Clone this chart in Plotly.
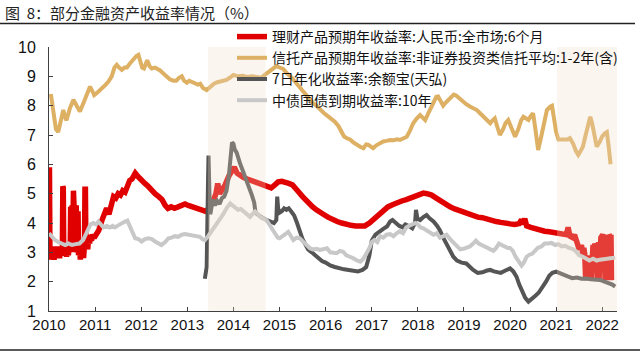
import plotly.graph_objects as go

# ---------------- data (decimal years, %) ----------------
years = list(range(2010, 2023))
year_labels = [str(y) for y in years]
yticks = list(range(1, 11))

# 理财产品预期年收益率:人民币:全市场:6个月
wm_x = [2010.00, 2010.01, 2010.02, 2010.03, 2010.05, 2010.07, 2010.09, 2010.11, 2010.13, 2010.15,
        2010.17, 2010.19, 2010.21, 2010.23, 2010.25, 2010.27, 2010.29, 2010.30, 2010.31, 2010.32,
        2010.34, 2010.36, 2010.38, 2010.40, 2010.42, 2010.44, 2010.46, 2010.47, 2010.48, 2010.50,
        2010.51, 2010.53, 2010.55, 2010.56, 2010.58, 2010.59, 2010.61, 2010.63, 2010.64, 2010.66,
        2010.68, 2010.70, 2010.72, 2010.73, 2010.75, 2010.77, 2010.78, 2010.79, 2010.80, 2010.82,
        2010.84, 2010.86, 2010.88, 2010.90, 2010.92, 2010.95, 2010.98,
        2011.00, 2011.08, 2011.15, 2011.20, 2011.25, 2011.30, 2011.35, 2011.40, 2011.45, 2011.50,
        2011.55, 2011.60, 2011.65, 2011.70, 2011.75, 2011.80, 2011.87, 2011.92, 2011.97, 2012.02,
        2012.08, 2012.15, 2012.22, 2012.30, 2012.38, 2012.45, 2012.52, 2012.58, 2012.65, 2012.72,
        2012.80, 2012.88, 2012.95, 2013.02, 2013.10, 2013.18, 2013.25, 2013.32, 2013.40, 2013.47,
        2013.55, 2013.62, 2013.66, 2013.70, 2013.75, 2013.82, 2013.90, 2013.97, 2014.02, 2014.08,
        2014.15, 2014.22, 2014.30, 2014.38, 2014.45, 2014.52, 2014.60, 2014.68, 2014.75, 2014.82,
        2014.90, 2014.97, 2015.05, 2015.12, 2015.20, 2015.28, 2015.35, 2015.42, 2015.50, 2015.58,
        2015.65, 2015.72, 2015.80, 2015.88, 2015.95, 2016.05, 2016.15, 2016.25, 2016.35, 2016.45,
        2016.55, 2016.65, 2016.75, 2016.85, 2016.95, 2017.05, 2017.15, 2017.25, 2017.35, 2017.45,
        2017.55, 2017.65, 2017.75, 2017.85, 2017.95, 2018.05, 2018.12, 2018.20, 2018.30, 2018.40,
        2018.50, 2018.60, 2018.70, 2018.80, 2018.90, 2019.00, 2019.10, 2019.20, 2019.30, 2019.40,
        2019.50, 2019.60, 2019.70, 2019.80, 2019.90, 2020.00, 2020.10, 2020.20, 2020.25, 2020.28,
        2020.32, 2020.36, 2020.45, 2020.55, 2020.65, 2020.75, 2020.85, 2020.95, 2021.05, 2021.15,
        2021.22, 2021.26, 2021.30, 2021.36, 2021.40, 2021.45, 2021.50, 2021.55, 2021.58, 2021.60,
        2021.62, 2021.64, 2021.65, 2021.66, 2021.67, 2021.68, 2021.69, 2021.70, 2021.71, 2021.72,
        2021.73, 2021.74, 2021.75, 2021.76, 2021.77, 2021.78, 2021.80, 2021.82, 2021.84, 2021.86,
        2021.88, 2021.89, 2021.90, 2021.91, 2021.92, 2021.93, 2021.94, 2021.95, 2021.97, 2021.99,
        2022.01, 2022.03, 2022.05, 2022.06, 2022.07, 2022.08, 2022.09, 2022.10, 2022.11, 2022.12,
        2022.13, 2022.14, 2022.15, 2022.16, 2022.17, 2022.18, 2022.19, 2022.20]
wm_y = [3.60, 5.90, 3.00, 2.75, 3.20, 2.80, 3.15, 2.75, 3.10, 2.80,
        3.20, 2.85, 3.10, 2.80, 3.15, 2.90, 3.10, 5.25, 5.20, 3.00,
        2.90, 3.15, 2.85, 3.10, 2.90, 3.20, 3.00, 4.55, 3.10, 4.60,
        3.00, 5.10, 3.20, 4.70, 3.10, 4.60, 3.00, 4.40, 2.90, 3.20,
        2.75, 3.20, 2.90, 3.30, 2.80, 3.30, 5.15, 5.15, 3.20, 3.40,
        3.10, 3.50, 3.30, 3.60, 3.40, 3.60, 3.50,
        3.55, 3.75, 4.10, 4.30, 4.50, 4.30, 4.60, 4.90, 4.85, 5.00,
        4.95, 5.10, 5.05, 5.30, 5.45, 5.50, 5.70, 5.60, 5.50, 5.45,
        5.35, 5.25, 5.10, 5.00, 4.90, 4.80, 4.60, 4.50, 4.55, 4.50,
        4.55, 4.60, 4.65, 4.60, 4.55, 4.50, 4.50, 4.45, 4.40, 4.50,
        4.70, 5.00, 5.35, 5.00, 5.10, 5.30, 5.60, 5.80, 5.90, 5.70,
        5.60, 5.55, 5.50, 5.45, 5.40, 5.40, 5.35, 5.30, 5.25, 5.20,
        5.30, 5.40, 5.42, 5.40, 5.35, 5.30, 5.20, 5.05, 4.90, 4.75,
        4.65, 4.55, 4.45, 4.35, 4.30, 4.20, 4.10, 4.05, 4.00, 3.95,
        3.92, 3.90, 3.88, 3.90, 4.00, 4.15, 4.30, 4.45, 4.55, 4.62,
        4.70, 4.75, 4.80, 4.85, 4.92, 4.98, 5.02, 5.00, 4.95, 4.85,
        4.75, 4.62, 4.55, 4.48, 4.42, 4.38, 4.33, 4.28, 4.20, 4.18,
        4.12, 4.08, 4.05, 4.02, 3.98, 3.97, 3.95, 3.98, 4.12, 3.95,
        4.15, 3.90, 3.85, 3.80, 3.75, 3.72, 3.70, 3.68, 3.65, 3.63,
        3.60, 3.85, 3.55, 3.50, 3.60, 3.35, 3.10, 3.25, 2.90, 3.15,
        2.95, 2.10, 2.90, 2.05, 2.85, 2.10, 2.90, 2.05, 2.80, 2.10,
        2.90, 2.05, 2.85, 2.10, 2.90, 3.00, 3.25, 3.05, 3.30, 3.10,
        3.30, 2.05, 3.30, 2.10, 3.35, 2.05, 3.40, 2.10, 3.50, 3.55,
        3.60, 3.50, 3.60, 2.05, 3.60, 2.10, 3.60, 2.05, 3.55, 2.10,
        3.60, 2.05, 3.60, 2.10, 3.55, 2.05, 3.60, 2.06]

# 信托产品预期年收益率:非证券投资类信托平均:1-2年(含)
tr_x = [2010.04, 2010.10, 2010.15, 2010.20, 2010.25, 2010.31, 2010.35, 2010.38, 2010.45, 2010.53,
        2010.60, 2010.67, 2010.75, 2010.82, 2010.89, 2010.94, 2010.98, 2011.05, 2011.14, 2011.22,
        2011.29, 2011.36, 2011.42, 2011.47, 2011.52, 2011.58, 2011.64, 2011.69, 2011.76, 2011.83,
        2011.90, 2011.94, 2011.98, 2012.02, 2012.06, 2012.10, 2012.13, 2012.18, 2012.23, 2012.30,
        2012.36, 2012.41, 2012.48, 2012.55, 2012.62, 2012.70, 2012.76, 2012.82, 2012.88, 2012.93,
        2012.99, 2013.04, 2013.10, 2013.17, 2013.23, 2013.28, 2013.34, 2013.42, 2013.50, 2013.58,
        2013.65, 2013.71, 2013.78, 2013.85, 2013.92, 2014.00, 2014.10, 2014.20, 2014.30, 2014.40,
        2014.50, 2014.60, 2014.68, 2014.76, 2014.85, 2014.93, 2015.00, 2015.08, 2015.16, 2015.24,
        2015.32, 2015.40, 2015.48, 2015.56, 2015.64, 2015.72, 2015.80, 2015.88, 2015.96, 2016.04,
        2016.12, 2016.20, 2016.28, 2016.34, 2016.40, 2016.47, 2016.53, 2016.60, 2016.68, 2016.75,
        2016.82, 2016.88, 2016.92, 2016.98, 2017.03, 2017.10, 2017.18, 2017.25, 2017.32, 2017.40,
        2017.48, 2017.55, 2017.61, 2017.68, 2017.76, 2017.83, 2017.90, 2017.97, 2018.05, 2018.10,
        2018.16, 2018.23, 2018.30, 2018.36, 2018.40, 2018.44, 2018.49, 2018.55, 2018.60, 2018.66,
        2018.72, 2018.78, 2018.83, 2018.90, 2018.99, 2019.05, 2019.13, 2019.20, 2019.28, 2019.35,
        2019.42, 2019.50, 2019.57, 2019.62, 2019.67, 2019.72, 2019.78, 2019.85, 2019.90, 2019.96,
        2020.03, 2020.11, 2020.18, 2020.24, 2020.29, 2020.34, 2020.40, 2020.45, 2020.50, 2020.55,
        2020.61, 2020.67, 2020.74, 2020.80, 2020.87, 2020.91, 2020.95, 2021.00, 2021.05, 2021.12,
        2021.19, 2021.25, 2021.30, 2021.37, 2021.43, 2021.48, 2021.53, 2021.58, 2021.64, 2021.70,
        2021.74, 2021.78, 2021.83, 2021.88, 2021.94, 2022.00, 2022.06, 2022.10, 2022.14, 2022.18]
tr_y = [8.40, 7.60, 7.20, 7.10, 7.40, 7.85, 7.60, 7.50, 7.90, 8.20,
        8.00, 7.80, 8.10, 8.40, 8.65, 8.50, 8.36, 8.45, 8.57, 8.70,
        8.82, 9.00, 9.30, 9.39, 9.30, 9.22, 9.30, 9.30, 9.45, 9.60,
        9.70, 9.73, 9.55, 9.30, 9.27, 9.50, 9.55, 9.35, 9.27, 9.30,
        9.25, 9.20, 9.10, 9.00, 8.90, 8.85, 8.85, 8.95, 9.00, 8.85,
        8.78, 8.85, 8.82, 8.75, 8.72, 8.75, 8.60, 8.53, 8.65, 8.75,
        8.80, 8.82, 8.85, 8.88, 8.95, 9.05, 9.00, 9.02, 8.98, 9.00,
        8.98, 8.95, 9.05, 9.15, 9.25, 9.35, 9.30, 9.25, 9.10, 9.00,
        8.85, 8.70, 8.50, 8.35, 8.20, 8.10, 8.00, 7.85, 7.75, 7.65,
        7.55, 7.45, 7.30, 7.10, 6.95, 6.88, 6.85, 6.75, 6.65, 6.60,
        6.55, 6.68, 6.67, 6.60, 6.55, 6.65, 6.72, 6.78, 6.80, 6.83,
        6.82, 6.85, 6.83, 6.90, 6.94, 7.15, 7.40, 7.55, 7.68, 7.60,
        7.51, 7.75, 7.97, 8.10, 8.30, 8.31, 8.15, 8.00, 8.10, 8.20,
        8.30, 8.38, 8.35, 8.25, 8.14, 8.05, 7.97, 7.92, 7.85, 7.74,
        7.63, 7.52, 7.40, 7.50, 7.57, 7.30, 7.00, 7.20, 7.40, 7.51,
        7.20, 6.94, 7.20, 7.50, 7.62, 7.55, 7.51, 7.65, 7.74, 7.20,
        6.49, 6.90, 7.50, 7.85, 7.97, 8.00, 7.60, 7.10, 6.85, 6.85,
        6.83, 6.85, 6.89, 6.70, 6.45, 6.32, 6.45, 6.60, 7.00, 7.45,
        7.62, 7.40, 6.90, 6.60, 6.75, 6.95, 7.06, 7.10, 6.60, 6.00]

# 7日年化收益率:余额宝(天弘)
yeb_x = [2013.38, 2013.42, 2013.45, 2013.46, 2013.48, 2013.50, 2013.53, 2013.56, 2013.60, 2013.65,
         2013.70, 2013.75, 2013.80, 2013.85, 2013.90, 2013.94, 2013.97, 2014.00, 2014.03, 2014.07,
         2014.10, 2014.15, 2014.20, 2014.25, 2014.30, 2014.35, 2014.40, 2014.45, 2014.48, 2014.52,
         2014.60, 2014.70, 2014.80, 2014.88, 2014.93, 2014.95, 2014.97, 2015.00, 2015.05, 2015.10,
         2015.15, 2015.20, 2015.25, 2015.32, 2015.38, 2015.44, 2015.50, 2015.55, 2015.62, 2015.70,
         2015.78, 2015.85, 2015.92, 2016.00, 2016.10, 2016.20, 2016.30, 2016.40, 2016.50, 2016.60,
         2016.70, 2016.80, 2016.88, 2016.95, 2017.00, 2017.08, 2017.15, 2017.25, 2017.33, 2017.40,
         2017.45, 2017.52, 2017.60, 2017.67, 2017.73, 2017.80, 2017.88, 2017.94, 2017.96, 2017.99,
         2018.05, 2018.12, 2018.19, 2018.26, 2018.34, 2018.42, 2018.48, 2018.55, 2018.63, 2018.70,
         2018.77, 2018.85, 2018.95, 2019.05, 2019.12, 2019.20, 2019.30, 2019.40, 2019.50, 2019.57,
         2019.65, 2019.72, 2019.80, 2019.90, 2020.00, 2020.07, 2020.14, 2020.20, 2020.27, 2020.33,
         2020.40, 2020.47, 2020.55, 2020.62, 2020.70, 2020.78, 2020.85, 2020.92, 2021.00, 2021.08,
         2021.15, 2021.25, 2021.35, 2021.45, 2021.55, 2021.65, 2021.75, 2021.85, 2021.95, 2022.05,
         2022.15, 2022.22, 2022.28]
yeb_y = [2.10, 2.50, 5.50, 6.30, 5.00, 4.30, 4.60, 4.80, 4.60, 4.75,
         4.65, 4.85, 4.90, 5.10, 5.60, 6.30, 6.75, 6.70, 6.50, 6.40,
         6.20, 6.00, 5.80, 5.60, 5.40, 5.20, 4.95, 4.70, 4.35, 4.30,
         4.20, 4.12, 4.05, 4.00, 4.10, 4.90, 4.50, 4.35, 4.40, 4.50,
         4.45, 4.50, 4.40, 4.25, 4.00, 3.70, 3.45, 3.30, 3.10, 3.00,
         2.90, 2.80, 2.70, 2.65, 2.55, 2.50, 2.45, 2.42, 2.40, 2.38,
         2.35, 2.40, 2.50, 2.90, 3.40, 3.60, 3.70, 3.80, 3.88, 4.05,
         4.10, 4.00, 3.90, 3.85, 3.95, 3.90, 3.82, 4.00, 4.45, 4.15,
         4.10, 4.20, 4.27, 4.15, 4.05, 3.90, 3.75, 3.50, 3.25, 3.00,
         2.85, 2.72, 2.65, 2.62, 2.50, 2.40, 2.30, 2.32, 2.38, 2.40,
         2.35, 2.32, 2.30, 2.38, 2.45, 2.35, 2.17, 1.90, 1.62, 1.45,
         1.32, 1.40, 1.52, 1.62, 1.80, 2.00, 2.20, 2.30, 2.34, 2.28,
         2.23, 2.18, 2.12, 2.14, 2.10, 2.11, 2.08, 2.08, 2.06, 2.00,
         1.95, 1.90, 1.83]

# 中债国债到期收益率:10年
gb_x = [2010.00, 2010.05, 2010.13, 2010.20, 2010.28, 2010.35, 2010.42, 2010.50, 2010.58, 2010.66,
        2010.74, 2010.80, 2010.85, 2010.90, 2010.96, 2011.02, 2011.07, 2011.12, 2011.18, 2011.25,
        2011.32, 2011.38, 2011.43, 2011.50, 2011.58, 2011.65, 2011.70, 2011.76, 2011.82, 2011.87,
        2011.94, 2012.01, 2012.08, 2012.16, 2012.23, 2012.30, 2012.37, 2012.44, 2012.52, 2012.59,
        2012.66, 2012.73, 2012.80, 2012.88, 2012.95, 2013.02, 2013.10, 2013.18, 2013.27, 2013.33,
        2013.38, 2013.45, 2013.52, 2013.57, 2013.64, 2013.71, 2013.78, 2013.85, 2013.90, 2013.93,
        2013.98, 2014.03, 2014.10, 2014.16, 2014.22, 2014.29, 2014.36, 2014.42, 2014.47, 2014.53,
        2014.58, 2014.65, 2014.72, 2014.78, 2014.83, 2014.90, 2014.96, 2015.00, 2015.06, 2015.12,
        2015.19, 2015.25, 2015.30, 2015.37, 2015.44, 2015.50, 2015.55, 2015.60, 2015.66, 2015.72,
        2015.80, 2015.88, 2015.96, 2016.03, 2016.10, 2016.17, 2016.24, 2016.31, 2016.38, 2016.45,
        2016.53, 2016.60, 2016.68, 2016.75, 2016.82, 2016.89, 2016.95, 2017.00, 2017.06, 2017.12,
        2017.18, 2017.25, 2017.32, 2017.40, 2017.47, 2017.54, 2017.61, 2017.68, 2017.75, 2017.83,
        2017.90, 2017.95, 2018.00, 2018.06, 2018.12, 2018.20, 2018.27, 2018.34, 2018.41, 2018.48,
        2018.55, 2018.62, 2018.70, 2018.77, 2018.85, 2018.92, 2018.99, 2019.06, 2019.13, 2019.20,
        2019.26, 2019.32, 2019.38, 2019.45, 2019.52, 2019.58, 2019.64, 2019.70, 2019.76, 2019.82,
        2019.88, 2019.95, 2020.00, 2020.06, 2020.12, 2020.18, 2020.25, 2020.30, 2020.36, 2020.42,
        2020.48, 2020.54, 2020.60, 2020.68, 2020.75, 2020.82, 2020.90, 2020.98, 2021.05, 2021.12,
        2021.20, 2021.28, 2021.35, 2021.42, 2021.50, 2021.58, 2021.65, 2021.72, 2021.80, 2021.88,
        2021.95, 2022.02, 2022.10, 2022.18, 2022.28]
gb_y = [3.65, 3.55, 3.42, 3.35, 3.28, 3.25, 3.30, 3.25, 3.28, 3.30,
        3.42, 3.60, 3.75, 3.95, 4.00, 3.95, 4.05, 3.95, 3.85, 3.90,
        3.85, 3.90, 3.85, 3.92, 4.00, 4.05, 4.08, 3.90, 3.65, 3.48,
        3.45, 3.37, 3.45, 3.48, 3.45, 3.37, 3.30, 3.25, 3.35, 3.48,
        3.50, 3.55, 3.53, 3.60, 3.62, 3.60, 3.59, 3.55, 3.53, 3.45,
        3.42, 3.55, 3.70, 3.82, 3.95, 4.10, 4.30, 4.50, 4.62, 4.67,
        4.60, 4.52, 4.45, 4.48, 4.40, 4.30, 4.21, 4.32, 4.39, 4.30,
        4.21, 4.15, 4.10, 3.95, 3.82, 3.65, 3.50, 3.48, 3.55, 3.60,
        3.70, 3.55, 3.42, 3.50, 3.48, 3.38, 3.31, 3.22, 3.14, 3.10,
        3.12, 3.08, 3.10, 3.14, 3.00, 2.97, 2.97, 3.05, 3.02, 2.90,
        2.85, 2.80, 2.72, 2.68, 2.78, 2.95, 3.15, 3.35, 3.42, 3.35,
        3.55, 3.50, 3.60, 3.62, 3.55, 3.65, 3.72, 3.65, 3.85, 3.92,
        3.98, 4.00, 3.95, 3.85, 3.82, 3.75, 3.70, 3.60, 3.65, 3.50,
        3.55, 3.60, 3.45, 3.35, 3.22, 3.10, 3.12, 3.15, 3.20, 3.30,
        3.40, 3.30, 3.25, 3.20, 3.15, 3.10, 3.05, 3.15, 3.30, 3.25,
        3.20, 3.15, 3.15, 3.05, 2.85, 2.70, 2.55, 2.65, 2.85, 2.92,
        2.95, 3.05, 3.15, 3.20, 3.30, 3.30, 3.32, 3.25, 3.28, 3.20,
        3.22, 3.15, 3.12, 3.05, 2.90, 2.85, 2.80, 2.72, 2.78, 2.72,
        2.75, 2.75, 2.78, 2.80, 2.82]

shade_periods = [(2013.45, 2014.70), (2021.02, 2022.33)]

names = ["理财产品预期年收益率:人民币:全市场:6个月",
         "信托产品预期年收益率:非证券投资类信托平均:1-2年(含)",
         "7日年化收益率:余额宝(天弘)",
         "中债国债到期收益率:10年"]
colors = ["#E00000", "#DDB064", "#555555", "#C8C8C8"]
widths = [5.5, 4, 4, 4]

# ---------------- figure ----------------
fig = go.Figure()
for xs, ys, nm, c, w in zip([wm_x, tr_x, yeb_x, gb_x], [wm_y, tr_y, yeb_y, gb_y],
                            names, colors, widths):
    fig.add_trace(go.Scatter(x=xs, y=ys, name=nm, mode="lines",
                             line=dict(color=c, width=w)))

for x0, x1 in shade_periods:
    fig.add_shape(type="rect", xref="x", yref="y", x0=x0, x1=x1, y0=1, y1=10,
                  fillcolor="rgba(241,220,196,0.28)", line_width=0, layer="above")

# title and rules
fig.add_annotation(text="图&nbsp;&nbsp;8：部分金融资产收益率情况（%）", xref="paper", yref="paper",
                   x=-46/568, y=(311-13)/264, xanchor="left", yanchor="middle",
                   showarrow=False, font=dict(size=15, color="#222222",
                                              family="Noto Sans CJK SC"))
fig.add_shape(type="line", xref="paper", yref="paper", x0=-49/568, x1=(635-49)/568,
              y0=(311-23.5)/264, y1=(311-23.5)/264, line=dict(color="#222222", width=1.5))
fig.add_shape(type="line", xref="paper", yref="paper", x0=-49/568, x1=(640-49)/568,
              y0=(311-350)/264, y1=(311-350)/264, line=dict(color="#222222", width=1.5))

xfont = dict(family="Liberation Sans, Arial, sans-serif", size=15, color="#111111")
yfont = dict(family="Liberation Sans, Arial, sans-serif", size=16, color="#111111")
fig.update_xaxes(range=[2010, 2022.32], tickvals=years, ticktext=year_labels,
                 showgrid=False, zeroline=False, showline=True, linecolor="#404040",
                 linewidth=1, ticks="inside", ticklen=4, tickcolor="#404040",
                 tickfont=xfont)
fig.update_yaxes(range=[1, 10], tickvals=yticks, showgrid=False, zeroline=False,
                 showline=True, linecolor="#404040", linewidth=1, ticks="inside",
                 ticklen=4, tickcolor="#404040", tickfont=yfont, ticklabelstandoff=9)

fig.update_layout(
    width=640, height=354, autosize=False,
    margin=dict(l=49, r=23, t=47, b=43),
    paper_bgcolor="white", plot_bgcolor="white",
    showlegend=True,
    legend=dict(x=(232-49)/568, y=(311-21)/264, xanchor="left", yanchor="top",
                bgcolor="rgba(0,0,0,0)", font=dict(size=14, color="#111111",
                                                  family="Noto Sans CJK SC"),
                tracegroupgap=0, itemwidth=30),
    font=dict(family="Noto Sans CJK SC"),
)

fig.write_html("out.html")
